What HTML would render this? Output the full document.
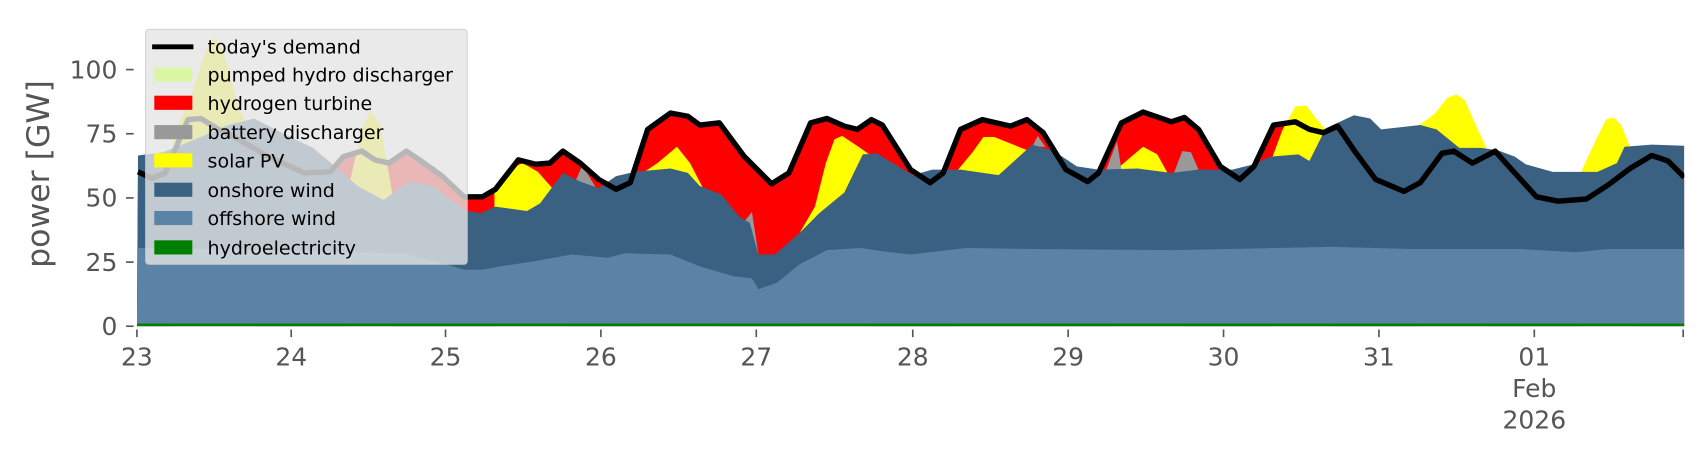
<!DOCTYPE html>
<html><head><meta charset="utf-8"><style>html,body{margin:0;padding:0;background:#fff}svg{display:block}</style></head>
<body>
<svg width="1706" height="460" viewBox="0 0 1570 423" preserveAspectRatio="none" xmlns="http://www.w3.org/2000/svg" font-family="'DejaVu Sans','Liberation Sans',sans-serif">
<defs><clipPath id="c"><rect x="126" y="0" width="1424" height="300"/></clipPath></defs>
<g clip-path="url(#c)">
<polygon fill="#ff0000" points="126,300 127,158 140,164 152,159 173,110 185,109 201,119 214,125 247,144 280,159 304,158 316,144 333,139 345,147 358,150 374,139 386,147 407,162 427,181 444,181 456,174 477,147 493,151 506,150 518,139 534,150 551,165 567,174 580,168 596,119 617,104 633,107 644,115 662,113 685,144 710,169 726,159 746,113 761,109 777,116 789,119 802,110 812,115 838,156 856,168 868,159 884,119 904,110 930,116 945,110 960,122 981,156 1001,167 1011,159 1032,113 1052,103 1078,112 1090,108 1103,119 1123,153 1141,165 1154,153 1172,115 1192,112 1205,119 1218,122 1231,116 1246,138 1266,165 1292,176 1307,168 1327,141 1338,139 1355,150 1376,139 1394,159 1414,181 1434,185 1460,183 1480,170 1500,155 1520,143 1535,148 1550,163 1550,300"/>
<g fill="#ffff00">
<polygon points="160,300 160,125 175,90 190,45 197,34 205,45 220,100 235,130 235,300"/>
<polygon points="318,300 320,175 333,120 341,101 350,115 362,184 362,300"/>
<polygon points="455,300 455,178 470,155 481,150 495,158 510,175 520,190 520,300"/>
<polygon points="590,300 590,160 605,150 623,135 635,150 648,175 660,190 660,300"/>
<polygon points="736,300 736,214 750,190 760,150 768,128 775,125 790,135 800,142 800,300"/>
<polygon points="880,300 880,158 895,140 905,126 915,126 930,132 945,138 955,138 955,300"/>
<polygon points="1025,300 1025,158 1040,145 1052,135 1065,142 1075,160 1082,168 1090,160 1090,300"/>
<polygon points="1170,300 1170,147 1180,120 1192,98 1202,97 1212,110 1225,125 1225,300"/>
<polygon points="1305,300 1305,116 1320,105 1332,90 1340,87 1348,92 1358,115 1368,136 1368,300"/>
<polygon points="1455,300 1455,158 1468,130 1478,110 1485,108 1492,115 1500,135 1505,140 1505,300"/>
</g>
<g fill="#999999">
<polygon points="528,170 536,152 548,172"/>
<polygon points="684,205 692,195 698,234"/>
<polygon points="1080,160 1088,139 1096,140 1103,156"/>
<polygon points="1018,156 1028,130 1032,156"/>
<polygon points="950,135 955,125 962,135"/>
</g>
<polygon fill="#3b6182" points="126,300 127,143 150,140 180,128 210,115 234,109 259,122 288,136 312,156 329,171 353,184 366,174 378,167 399,171 415,184 430,194 442,196 456,190 485,194 497,187 518,159 534,167 551,173 567,162 584,158 617,155 633,159 644,171 664,179 680,199 690,205 698,234 713,234 736,214 754,196 777,177 794,142 807,141 840,161 858,156 884,156 919,161 950,133 970,139 991,153 1011,156 1047,155 1078,159 1103,156 1134,156 1154,151 1169,144 1195,142 1205,148 1220,118 1246,106 1261,109 1271,119 1307,115 1322,119 1343,136 1363,136 1378,138 1394,144 1404,151 1429,158 1444,158 1470,158 1488,150 1495,135 1520,133 1550,134 1550,300"/>
<polygon fill="#5b83a5" points="126,300 127,228 247,230 370,233 407,242 427,248 444,248 460,245 493,240 526,234 559,237 575,233 617,234 644,245 675,254 692,256 698,266 715,260 736,243 761,230 792,228 812,231 838,234 889,228 950,229 1078,230 1130,229 1225,227 1300,229 1400,229 1450,232 1480,229 1550,229 1550,300"/>
<rect x="126" y="297.5" width="1424" height="2.5" fill="#008000"/>
<polyline fill="none" stroke="#000" stroke-width="5" stroke-linejoin="round" points="127,158 140,164 152,159 173,110 185,109 201,119 214,125 247,144 280,159 304,158 316,144 333,139 345,147 358,150 374,139 386,147 407,162 427,181 444,181 456,174 477,147 493,151 506,150 518,139 534,150 551,165 567,174 580,168 596,119 617,104 633,107 644,115 662,113 685,144 710,169 726,159 746,113 761,109 777,116 789,119 802,110 812,115 838,156 856,168 868,159 884,119 904,110 930,116 945,110 960,122 981,156 1001,167 1011,159 1032,113 1052,103 1078,112 1090,108 1103,119 1123,153 1141,165 1154,153 1172,115 1192,112 1205,119 1218,122 1231,116 1246,138 1266,165 1292,176 1307,168 1327,141 1338,139 1355,150 1376,139 1394,159 1414,181 1434,185 1460,183 1480,170 1500,155 1520,143 1535,148 1550,163"/>
</g>
<g stroke="#555" stroke-width="1.5">
<line x1="116" y1="64" x2="123" y2="64"/><line x1="116" y1="123" x2="123" y2="123"/><line x1="116" y1="182" x2="123" y2="182"/><line x1="116" y1="241" x2="123" y2="241"/><line x1="116" y1="300" x2="123" y2="300"/>
<line x1="126" y1="303" x2="126" y2="310"/><line x1="268" y1="303" x2="268" y2="310"/><line x1="410" y1="303" x2="410" y2="310"/><line x1="553" y1="303" x2="553" y2="310"/><line x1="696" y1="303" x2="696" y2="310"/><line x1="840" y1="303" x2="840" y2="310"/><line x1="983" y1="303" x2="983" y2="310"/><line x1="1126" y1="303" x2="1126" y2="310"/><line x1="1269" y1="303" x2="1269" y2="310"/><line x1="1412" y1="303" x2="1412" y2="310"/><line x1="1549" y1="303" x2="1549" y2="310"/>
</g>
<g fill="#555" font-size="23" text-anchor="end">
<text x="108" y="72">100</text><text x="108" y="131">75</text><text x="108" y="190">50</text><text x="108" y="249">25</text><text x="108" y="308">0</text>
</g>
<g fill="#555" font-size="23" text-anchor="middle">
<text x="126" y="336">23</text><text x="268" y="336">24</text><text x="410" y="336">25</text><text x="553" y="336">26</text><text x="696" y="336">27</text><text x="840" y="336">28</text><text x="983" y="336">29</text><text x="1126" y="336">30</text><text x="1269" y="336">31</text><text x="1412" y="336">01</text><text x="1412" y="365">Feb</text><text x="1412" y="394">2026</text>
</g>
<text transform="translate(45,160) rotate(-90)" fill="#555" font-size="29" text-anchor="middle">power [GW]</text>
<rect x="134" y="27" width="296" height="216" rx="3" fill="#e5e5e5" fill-opacity="0.8" stroke="#cccccc" stroke-width="0.8"/>
<line x1="140" y1="43" x2="178" y2="43" stroke="#000" stroke-width="4.5"/>
<rect x="142" y="62" width="35" height="13" fill="#dcf7a4"/>
<rect x="142" y="88" width="35" height="13" fill="#ff0000"/>
<rect x="142" y="115" width="35" height="13" fill="#999999"/>
<rect x="142" y="141" width="35" height="13" fill="#ffff00"/>
<rect x="142" y="168" width="35" height="13" fill="#3b6182"/>
<rect x="142" y="194" width="35" height="13" fill="#5b83a5"/>
<rect x="142" y="221" width="35" height="13" fill="#008000"/>
<g fill="#000" font-size="17.5">
<text x="191" y="49">today's demand</text>
<text x="191" y="75">pumped hydro discharger</text>
<text x="191" y="101">hydrogen turbine</text>
<text x="191" y="128">battery discharger</text>
<text x="191" y="154">solar PV</text>
<text x="191" y="181">onshore wind</text>
<text x="191" y="207">offshore wind</text>
<text x="191" y="234">hydroelectricity</text>
</g>
</svg>
</body></html>
